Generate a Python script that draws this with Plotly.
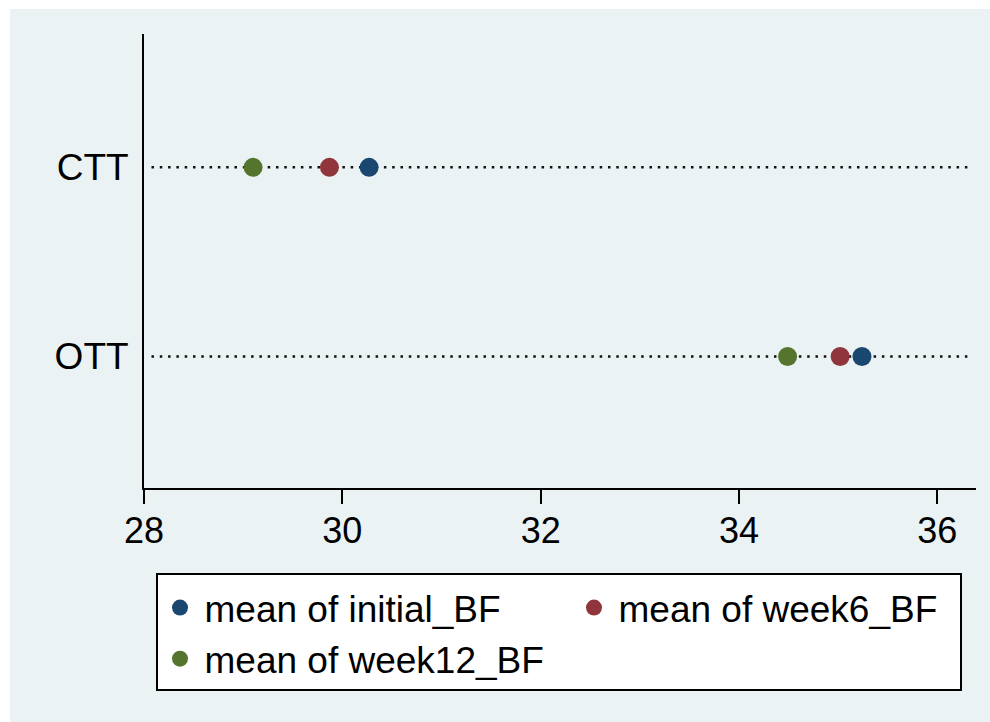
import plotly.graph_objects as go

# ---- data ----
categories = ["OTT", "CTT"]
initial_bf = [35.24, 30.27]
week6_bf = [35.02, 29.87]
week12_bf = [34.49, 29.10]
series_names = ["mean of initial_BF", "mean of week6_BF", "mean of week12_BF"]
x_ticks = [28, 30, 32, 34, 36]

colors = ["#1a476f", "#90353b", "#55752f"]
FONT = "Liberation Sans, Arial, sans-serif"

W, H = 990, 722
L, R, T, B = 144, 14, 34, 234
pw, ph = W - L - R, H - T - B

fig = go.Figure()

ypos = list(range(len(categories)))

for name, vals, col in zip(series_names, [initial_bf, week6_bf, week12_bf], colors):
    fig.add_trace(go.Scatter(
        x=vals, y=ypos, mode="markers", name=name,
        marker=dict(size=19, color=col, line=dict(width=0)),
        cliponaxis=False,
    ))

# dotted category lines
shapes = []
for yv in ypos:
    shapes.append(dict(type="line", xref="x domain", yref="y",
                       x0=0.009, x1=0.992, y0=yv, y1=yv,
                       line=dict(color="#111111", width=2.5, dash="2.5px,5.8px"),
                       layer="below"))

def px2paper_x(px):
    return (px - L) / pw

def px2paper_y(py):
    return (H - B - py) / ph

# graph region background (light bluish gray)
shapes.insert(0, dict(type="rect", xref="paper", yref="paper",
                      x0=px2paper_x(10), x1=px2paper_x(W + 5),
                      y0=px2paper_y(H + 5), y1=px2paper_y(9),
                      fillcolor="#eaf2f3", line=dict(width=0), layer="below"))
# legend box
shapes.append(dict(type="rect", xref="paper", yref="paper",
                   x0=px2paper_x(157), x1=px2paper_x(961),
                   y0=px2paper_y(690), y1=px2paper_y(574),
                   fillcolor="white", line=dict(color="black", width=2),
                   layer="below"))

fig.update_layout(
    width=W, height=H, autosize=False,
    margin=dict(l=L, r=R, t=T, b=B, pad=0, autoexpand=False),
    paper_bgcolor="white",
    plot_bgcolor="white",
    font=dict(family=FONT, size=36, color="black"),
    showlegend=True,
    legend=dict(
        orientation="h",
        x=px2paper_x(155.5), xanchor="left",
        y=px2paper_y(577), yanchor="top",
        bgcolor="rgba(0,0,0,0)", borderwidth=0,
        itemwidth=39,
        entrywidth=360, entrywidthmode="pixels",
        font=dict(family=FONT, size=37, color="black"),
        itemclick=False, itemdoubleclick=False,
        tracegroupgap=0,
    ),
    xaxis=dict(
        range=[28, 36.39], tickvals=x_ticks, ticktext=[str(v) for v in x_ticks],
        showline=True, linecolor="black", linewidth=2,
        ticks="outside", ticklen=14, tickwidth=2, tickcolor="black",
        showgrid=False, zeroline=False,
        ticklabelstandoff=-4,
        tickfont=dict(family=FONT, size=36, color="black"),
    ),
    yaxis=dict(
        range=[-0.695, 1.705], tickvals=ypos, ticktext=categories,
        showline=True, linecolor="black", linewidth=2,
        ticks="", showgrid=False, zeroline=False,
        ticklabelstandoff=6,
        tickfont=dict(family=FONT, size=37, color="black"),
    ),
    shapes=shapes,
)

fig.write_html("out.html")
